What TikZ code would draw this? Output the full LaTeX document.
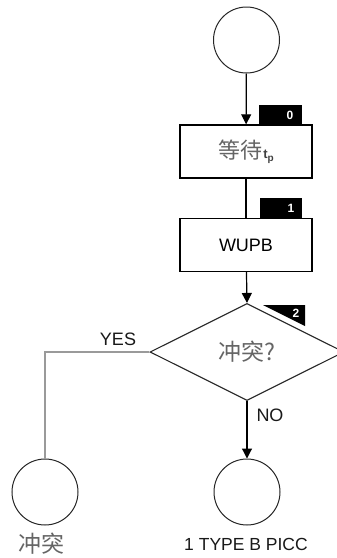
\documentclass[tikz,border=0pt]{standalone}
\usepackage{fontspec}
\setmainfont{Liberation Sans}
\newfontfamily\cjk{Noto Sans CJK SC}
\usetikzlibrary{shapes.geometric,arrows.meta}
\definecolor{cjkgray}{HTML}{656565}
\definecolor{linegray}{HTML}{9A9A9A}
\tikzset{
  x=1pt,y=-1pt,
  term/.style={circle,draw=black!85,line width=1pt,minimum size=66pt,inner sep=0pt},
  procbox/.style={rectangle,draw=black,line width=1.4pt,minimum width=132pt,minimum height=53pt,inner sep=0pt,font=\fontsize{18}{20}\selectfont},
  decide/.style={diamond,draw=black!85,line width=1.1pt,minimum width=194pt,minimum height=97pt,inner sep=0pt},
  tab/.style={fill=black,draw=none},
  tabnum/.style={text=white,font=\bfseries\fontsize{12}{12}\selectfont,inner sep=0pt},
  flow/.style={line width=1.2pt,-{Triangle[length=10pt,width=10pt]}},
  plain/.style={line width=1.2pt},
  lbl/.style={font=\fontsize{18}{20}\selectfont,inner sep=0pt,text=black!90},
  cjklbl/.style={font=\cjk\fontsize{23}{25}\selectfont,text=cjkgray,inner sep=0pt}
}
\begin{document}
\begin{tikzpicture}
\useasboundingbox (0,0) rectangle (337,558);
\fill[white] (0,0) rectangle (337,558);
% nodes
\node[term] (c0) at (246.5,40) {};
\node[procbox] (b0) at (246,151.5) {{\cjk\color{cjkgray}\fontsize{22}{24}\selectfont 等待}\hspace{1pt}{\color{black!75}\bfseries\fontsize{13}{14}\selectfont t\raisebox{-0.2em}{\fontsize{10}{11}\selectfont p}}};
\node[procbox] (b1) at (246,245) {WUPB};
\node[decide] (d) at (247,352) {\raisebox{-3pt}{\cjk\color{cjkgray}\fontsize{23}{25}\selectfont 冲突?}};
\node[term] (c1) at (45,492) {};
\node[term] (c2) at (247,492) {};
% tabs
\fill[tab] (258.5,105) rectangle (302,125);
\node[tabnum] (t0) at (290,115) {0};
\fill[tab] (259.5,198) rectangle (302,218);
\node[tabnum] (t1) at (291,208) {1};
\fill[tab] (263,305) -- (305,305) -- (305,326) -- cycle;
\node[tabnum] (t2) at (296,313) {2};
% connectors
\draw[flow] (c0) -- (b0);
\draw[plain] (b0) -- (b1);
\draw[flow] (b1) -- (d.north);
\coordinate (yc) at (45,352);
\draw[linegray,line width=1.8pt] (d.west) -- (yc) -- (c1.north);
\draw[flow] (d.south) -- (c2.north);
% labels
\node[lbl] (yes) at (118,339.5) {YES};
\node[lbl] (no) at (270,415) {NO};
\node[cjklbl] (l1) at (42,544) {冲突};
\node[lbl,font=\fontsize{17.5}{19}\selectfont] (l2) at (246,544) {1 TYPE B PICC};
\end{tikzpicture}
\end{document}
